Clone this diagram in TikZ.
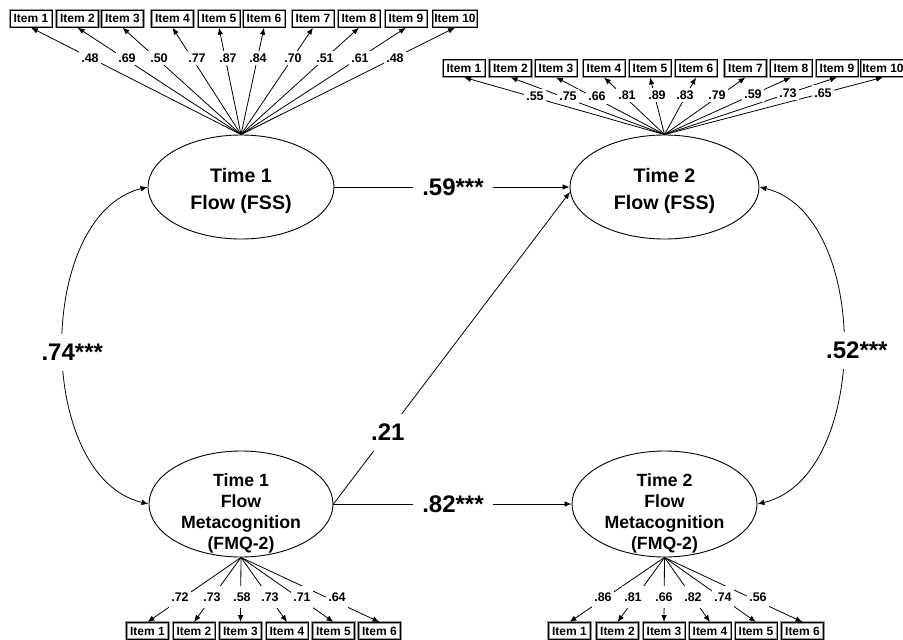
\documentclass[tikz,border=0pt]{standalone}
\usepackage{fontspec}
\setmainfont{Liberation Sans}
\usetikzlibrary{shapes.geometric,arrows.meta}

\begin{document}
\begin{tikzpicture}[x=1pt,y=-1pt,
  latent/.style={draw, ellipse, line width=0.9pt, inner sep=0pt},
  latenttext/.style={align=center, inner sep=0pt},
  bigtext/.style={font=\fontsize{19.6}{27}\selectfont\bfseries},
  midtext/.style={font=\fontsize{17.7}{21}\selectfont\bfseries},
  itembox/.style={draw, line width=0.9pt, inner xsep=1.5pt, inner ysep=0pt,
    minimum width=42pt, minimum height=17pt,
    font=\fontsize{12}{14}\selectfont\bfseries,
    preaction={draw=black!40, line width=2.2pt}},
  loading/.style={fill=white, inner xsep=2pt, inner ysep=3pt,
    font=\fontsize{12.5}{14}\selectfont\bfseries},
  loadingwide/.style={loading, inner ysep=7pt},
  coef/.style={fill=white, inner xsep=9pt, inner ysep=10pt,
    font=\fontsize{24}{28}\selectfont\bfseries},
  tip/.style={-{Latex[length=7pt,width=5.5pt]}},
  arrowline/.style={line width=0.8pt, tip},
  covline/.style={line width=0.8pt,
    {Latex[length=7pt,width=5.5pt]}-{Latex[length=7pt,width=5.5pt]}}
]
\useasboundingbox (0,0) rectangle (903,640);

% latent factors
\node[latent, minimum width=186pt, minimum height=104pt] (t1fss) at (241,187) {};
\node[latent, minimum width=189pt, minimum height=104pt] (t2fss) at (664.5,187) {};
\node[latent, minimum width=184pt, minimum height=106pt] (t1fmq) at (241,504) {};
\node[latent, minimum width=185pt, minimum height=106pt] (t2fmq) at (664.5,504) {};

\node[latenttext, bigtext] (t1fsstext) at (241,191) {Time 1\\Flow (FSS)};
\node[latenttext, bigtext] (t2fsstext) at (664.5,191) {Time 2\\Flow (FSS)};
\node[latenttext, midtext] (t1fmqtext) at (241,513) {Time 1\\Flow\\Metacognition\\(FMQ-2)};
\node[latenttext, midtext] (t2fmqtext) at (664.5,513) {Time 2\\Flow\\Metacognition\\(FMQ-2)};

% indicator boxes
\foreach \i/\x in {1/31,2/77.5,3/122.5,4/172.5,5/219,6/264,7/313,8/359,9/406,10/455}
  \node[itembox] (tl\i) at (\x,18.7) {Item \i};
\foreach \i/\x in {1/464,2/510.5,3/556,4/604,5/650,6/696,7/745.5,8/791,9/837,10/883}
  \node[itembox] (tr\i) at (\x,68.4) {Item \i};
\foreach \i/\x in {1/147.5,2/194,3/240.5,4/287,5/333.5,6/379.5}
  \node[itembox] (bl\i) at (\x,631) {Item \i};
\foreach \i/\x in {1/569.5,2/617.5,3/664,4/710,5/756,6/802.5}
  \node[itembox] (br\i) at (\x,631) {Item \i};

% factor loadings: connectors
\foreach \i in {1,...,10} \draw[arrowline] (t1fss.north) -- (tl\i.south);
\foreach \i in {1,...,10} \draw[arrowline] (t2fss.north) -- (tr\i.south);
\foreach \i in {1,...,6} \draw[arrowline] (t1fmq.south) -- (bl\i.north);
\foreach \i in {1,...,6} \draw[arrowline] (t2fmq.south) -- (br\i.north);

% factor loadings: values
\foreach \i/\x/\v in {1/90/.48,2/127/.69,3/159/.50,4/197/.77,5/228/.87,
    6/258/.84,7/293/.70,8/325/.51,9/360/.61,10/395/.48}
  \node[loading] (tlv\i) at (\x,58) {\v};
\foreach \i/\x/\y/\v in {1/535/96.7/.55,2/568/96/.75,3/597/96.5/.66,4/627/95/.81,
    5/657/95/.89,6/685/95/.83,7/717/95/.79,8/753/94.3/.59,9/788/92.8/.73,10/823/92.7/.65}
  \node[loading] (trv\i) at (\x,\y) {\v};
\foreach \i/\x/\v in {1/180/.72,2/212/.73,3/242/.58,4/270/.73,5/302/.71,6/337/.64}
  \node[loadingwide] (blv\i) at (\x,597) {\v};
\foreach \i/\x/\v in {1/603/.86,2/633/.81,3/664/.66,4/693/.82,5/723/.74,6/758/.56}
  \node[loadingwide] (brv\i) at (\x,597) {\v};

% structural paths
\draw[arrowline] (t1fss.east) -- node[coef, pos=0.504] (c59) {.59***} (t2fss.west);
\draw[arrowline] (t1fmq.east) -- node[coef, pos=0.502] (c82) {.82***} (t2fmq.west);
\draw[arrowline] (t1fmq.east) -- node[coef, pos=0.23] (c21) {.21} (t2fss.183);

% covariances
\draw[covline] (t1fss.west) .. controls (35,215) and (35,477) ..
  node[coef, pos=0.5, xshift=9pt, yshift=-6.5pt] (c74) {.74***} (t1fmq.west);
\draw[covline] (t2fss.east) .. controls (871,214) and (871,477) ..
  node[coef, pos=0.5, xshift=14pt, yshift=-4.5pt] (c52) {.52***} (t2fmq.east);
\end{tikzpicture}
\end{document}
